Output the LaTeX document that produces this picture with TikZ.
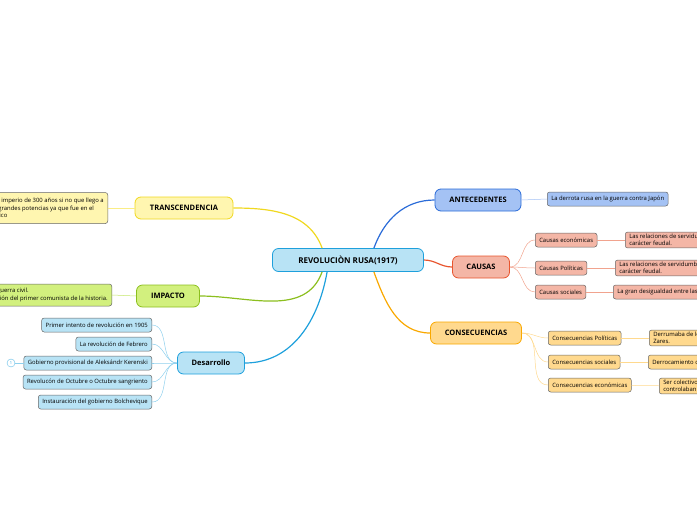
\documentclass[tikz,border=0pt]{standalone}
\usepackage{fontspec}
\setmainfont{Open Sans}
\definecolor{cblue}{HTML}{B8E3F5}
\definecolor{cbluel}{HTML}{1EA0DC}
\definecolor{anteF}{HTML}{A4C2F4}
\definecolor{anteL}{HTML}{2A6BD8}
\definecolor{causF}{HTML}{F4B6A6}
\definecolor{causL}{HTML}{E8552E}
\definecolor{consF}{HTML}{FFD98E}
\definecolor{consL}{HTML}{F9A800}
\definecolor{tranF}{HTML}{FFF6B0}
\definecolor{tranL}{HTML}{F0D820}
\definecolor{impF}{HTML}{D2F07E}
\definecolor{impL}{HTML}{8CBF1F}
\tikzset{
  mainbox/.style={draw, rounded corners=6pt, line width=0.8pt, minimum height=22pt,
    inner xsep=8pt, font=\fontsize{7.5}{9}\selectfont\bfseries},
  leafbox/.style={draw=gray!80!black, rounded corners=2.5pt, line width=0.5pt,
    minimum height=14pt, inner xsep=4pt, inner ysep=2pt,
    font=\fontsize{5.9}{7.4}\selectfont, align=left},
  mainline/.style={line width=1.2pt},
  leafline/.style={line width=0.5pt},
}
\begin{document}
\begin{tikzpicture}[x=1pt,y=-1pt]
\useasboundingbox (0,0) rectangle (697,520);
\clip (0,0) rectangle (697,520);

% central
\node[mainbox, fill=cblue, draw=cbluel, minimum width=151pt, minimum height=23pt,
  font=\fontsize{8}{9}\selectfont\bfseries] (rev) at (348,260) {REVOLUCIÒN RUSA(1917)};

% main branches
\node[mainbox, fill=anteF, draw=anteL, minimum width=86pt] (ante) at (478,200) {ANTECEDENTES};
\node[mainbox, fill=causF, draw=causL, minimum width=57pt] (caus) at (481,267) {CAUSAS};
\node[mainbox, fill=consF, draw=consL, minimum width=91pt] (cons) at (476,333) {CONSECUENCIAS};
\node[mainbox, fill=tranF, draw=tranL, minimum width=98pt] (tran) at (184,208) {TRANSCENDENCIA};
\node[mainbox, fill=impF, draw=impL, minimum width=63pt] (imp) at (168,296) {IMPACTO};
\node[mainbox, fill=cblue, draw=cbluel, minimum width=67pt] (des) at (211,363) {Desarrollo};

\draw[mainline, anteL] (rev.north east) ++(-50,0) to[out=70,in=180] (ante.west);
\draw[mainline, causL] (rev.east) to[out=0,in=180] (caus.west);
\draw[mainline, consL] (rev.south east) ++(-50,0) to[out=-70,in=180] (cons.west);
\draw[mainline, tranL] (rev.north west) ++(50,0) to[out=110,in=0] (tran.east);
\draw[mainline, impL] (rev.south west) ++(50,0) to[out=-110,in=0] (imp.east);
\draw[mainline, cbluel] (rev.south west) ++(55,0) to[out=-100,in=0] (des.east);

% antecedentes
\node[leafbox, fill=anteF, anchor=west] (a1) at (547,199) {La derrota rusa en la guerra contra Japón};
\draw[leafline, anteF] (ante.east) -- (a1.west);

% causas
\node[leafbox, fill=causF, anchor=west] (c1) at (535,240) {Causas económicas};
\node[leafbox, fill=causF, anchor=west] (c2) at (535,268) {Causas Políticas};
\node[leafbox, fill=causF, anchor=west] (c3) at (535,292) {Causas sociales};
\node[leafbox, fill=causF, anchor=west] (c1a) at (625,240) {Las relaciones de servidumbre de\\carácter feudal.};
\node[leafbox, fill=causF, anchor=west] (c2a) at (615,268) {Las relaciones de servidumbre de\\carácter feudal.};
\node[leafbox, fill=causF, anchor=west] (c3a) at (613,292) {La gran desigualdad entre las clases};
\foreach \c in {c1,c2,c3}
  \draw[leafline, causF!80!causL] (caus.east) to[out=0,in=180] (\c.west);
\draw[leafline, causF!80!causL] (c1) -- (c1a);
\draw[leafline, causF!80!causL] (c2) -- (c2a);
\draw[leafline, causF!80!causL] (c3) -- (c3a);

% consecuencias
\node[leafbox, fill=consF, anchor=west] (k1) at (548,338) {Consecuencias Políticas};
\node[leafbox, fill=consF, anchor=west] (k2) at (548,362) {Consecuencias sociales};
\node[leafbox, fill=consF, anchor=west] (k3) at (548,385) {Consecuencias económicas};
\node[leafbox, fill=consF, anchor=west] (k1a) at (649,338) {Derrumaba de los\\Zares.};
\node[leafbox, fill=consF, anchor=west] (k2a) at (648,362) {Derrocamiento de los Zares};
\node[leafbox, fill=consF, anchor=west] (k3a) at (659,386) {Ser colectivos\\controlaban};
\foreach \c in {k1,k2,k3}
  \draw[leafline, consF] (cons.east) to[out=0,in=180] (\c.west);
\draw[leafline, consF] (k1) -- (k1a);
\draw[leafline, consF] (k2) -- (k2a);
\draw[leafline, consF] (k3) -- (k3a);

% transcendencia, impacto
\node[leafbox, fill=tranF, anchor=east, minimum height=31pt] (t1) at (108,208)
  {Terminó el imperio de 300 años si no que  llego a\\ser de las grandes potencias ya que fue en el\\el económico};
\draw[leafline, tranF!70!tranL] (tran.west) -- (t1.east);
\node[leafbox, fill=impF, anchor=east, minimum height=22pt] (i1) at (112,295)
  {Una guerra civil.\\Creación del primer comunista de la historia.};
\draw[leafline, impF!80!impL] (imp.west) -- (i1.east);

% desarrollo
\node[leafbox, fill=cblue, anchor=east] (d1) at (152,325) {Primer intento de revolución en 1905};
\node[leafbox, fill=cblue, anchor=east] (d2) at (152,344) {La revolución de Febrero};
\node[leafbox, fill=cblue, anchor=east] (d3) at (152,363) {Gobierno provisional de Aleksándr Kerenski};
\node[leafbox, fill=cblue, anchor=east] (d4) at (152,382) {Revolucón de Octubre o Octubre sangriento};
\node[leafbox, fill=cblue, anchor=east] (d5) at (152,402) {Instauración del gobierno Bolchevique};
\foreach \d in {d1,d2,d3,d4,d5}
  \draw[leafline, cbluel!50] (des.west) to[out=180,in=0] (\d.east);
\node[circle, draw=cbluel!70, fill=white, inner sep=0pt, minimum size=8pt,
  font=\fontsize{4}{4}\selectfont, text=cbluel] (n1) at (11,363) {1};
\draw[leafline, cbluel!50] (n1) -- (d3.west);
\end{tikzpicture}
\end{document}
